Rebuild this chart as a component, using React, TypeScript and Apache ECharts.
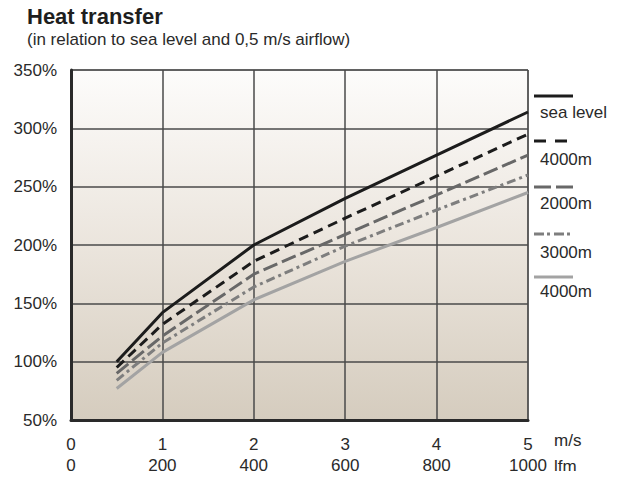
import React, { useEffect, useRef } from "react";
import * as echarts from "echarts";

const speeds = [0.5, 1, 2, 3, 4, 5];
const seaLevel = [100, 142, 200, 240, 277, 314];
const alt4000Dashed = [95, 132, 186, 223, 259, 295];
const alt2000 = [90, 122, 175, 209, 243, 277];
const alt3000 = [84, 116, 164, 199, 230, 260];
const alt4000Gray = [77, 108, 153, 186, 215, 245];

const seriesNames = ["sea level", "4000m", "2000m", "3000m", "4000m"];
const msTicks = [0, 1, 2, 3, 4, 5];
const lfmTicks = [0, 200, 400, 600, 800, 1000];

const FONT = "'Liberation Sans', Arial, Helvetica, sans-serif";

export default function App() {
  const ref = useRef<HTMLDivElement>(null);
  useEffect(() => {
    if (!ref.current) return;
    const chart = echarts.init(ref.current, undefined, { renderer: "svg" });
    const styles = [
      { color: "#1c1c1c", type: "solid" as any, dash: null as any },
      { color: "#1c1c1c", type: [10, 6] as any, dash: [12, 9] },
      { color: "#686868", type: [15, 5] as any, dash: [17, 5] },
      { color: "#7e7e7e", type: [9, 4, 3, 4] as any, dash: [10, 3, 3, 4] },
      { color: "#a3a3a3", type: "solid" as any, dash: null as any },
    ];
    const datasets = [seaLevel, alt4000Dashed, alt2000, alt3000, alt4000Gray];
    const legendLineY = [96, 141, 187, 234, 277];
    const legendTextY = [112, 159, 203, 252, 291];
    const legendGraphics: any[] = [];
    datasets.forEach((_, i) => {
      legendGraphics.push({
        type: "line",
        shape: { x1: 534, y1: legendLineY[i], x2: 573, y2: legendLineY[i] },
        style: {
          stroke: styles[i].color,
          lineWidth: 3,
          lineDash: styles[i].dash || undefined,
        },
      });
      legendGraphics.push({
        type: "text",
        x: 540,
        y: legendTextY[i],
        style: {
          text: seriesNames[i],
          fill: "#2a2a2a",
          fontSize: 17,
          fontFamily: FONT,
          verticalAlign: "middle",
        },
      });
    });
    chart.setOption({
      animation: false,
      textStyle: { fontFamily: FONT },
      title: {
        text: "Heat transfer",
        left: 22,
        top: 0,
        textStyle: { fontSize: 22, fontWeight: "bold", color: "#1e1e1e", fontFamily: FONT },
      },
      grid: {
        left: 71,
        right: 94,
        top: 70,
        bottom: 59,
        show: true,
        borderColor: "#555",
        borderWidth: 1,
        backgroundColor: new echarts.graphic.LinearGradient(0, 0, 0, 1, [
          { offset: 0, color: "#fdfcfb" },
          { offset: 0.5, color: "#ebe5dd" },
          { offset: 1, color: "#d5ccbe" },
        ]),
      },
      xAxis: [
        {
          type: "value",
          min: 0,
          max: 5,
          interval: 1,
          axisLine: { show: true, onZero: false, lineStyle: { color: "#2a2a2a", width: 3 } },
          axisTick: { show: false },
          splitLine: { show: true, lineStyle: { color: "#4a4a4a", width: 1.5 } },
          axisLabel: {
            margin: 16,
            fontSize: 17,
            color: "#2a2a2a",
            fontFamily: FONT,
            formatter: (v: number) => (msTicks.includes(v) ? String(v) : ""),
          },
        },
        {
          type: "value",
          position: "bottom",
          offset: 21,
          min: 0,
          max: 1000,
          interval: 200,
          axisLine: { show: false },
          axisTick: { show: false },
          splitLine: { show: false },
          axisLabel: {
            margin: 16,
            fontSize: 17,
            color: "#2a2a2a",
            fontFamily: FONT,
            formatter: (v: number) => (lfmTicks.includes(v) ? String(v) : ""),
          },
        },
      ],
      yAxis: {
        type: "value",
        min: 50,
        max: 350,
        interval: 50,
        axisLine: { show: true, lineStyle: { color: "#2a2a2a", width: 3 } },
        axisTick: { show: false },
        splitLine: { show: true, lineStyle: { color: "#4a4a4a", width: 1.5 } },
        axisLabel: {
          margin: 14,
          fontSize: 17,
          color: "#2a2a2a",
          fontFamily: FONT,
          formatter: "{value}%",
        },
      },
      series: datasets.map((d, i) => ({
        type: "line",
        name: seriesNames[i],
        xAxisIndex: 0,
        data: speeds.map((s, j) => [s, d[j]]),
        showSymbol: false,
        symbol: "none",
        lineStyle: { color: styles[i].color, width: 3, type: styles[i].type },
        z: 10 - i,
      })),
      graphic: [
        {
          type: "text",
          x: 27,
          y: 39,
          style: {
            text: "(in relation to sea level and 0,5 m/s airflow)",
            fill: "#2a2a2a",
            fontSize: 17,
            fontFamily: FONT,
            verticalAlign: "middle",
          },
        },
        ...legendGraphics,
        {
          type: "text",
          x: 554,
          y: 440,
          style: { text: "m/s", fill: "#2a2a2a", fontSize: 17, fontFamily: FONT, verticalAlign: "middle" },
        },
        {
          type: "text",
          x: 554,
          y: 466,
          style: { text: "lfm", fill: "#2a2a2a", fontSize: 17, fontFamily: FONT, verticalAlign: "middle" },
        },
      ],
    });
    return () => chart.dispose();
  }, []);
  return <div ref={ref} style={{ width: 622, height: 479, margin: -8 }} />;
}
